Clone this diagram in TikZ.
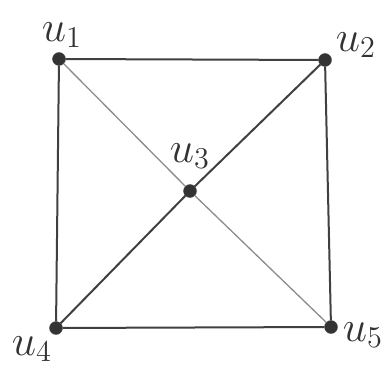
\documentclass[tikz,border=0pt]{standalone}
\usepackage{graphicx}
\newcommand{\biglbl}[1]{\scalebox{2.1}{\huge$#1$}}
\begin{document}
\begin{tikzpicture}[x=1pt,y=-1pt,
  vtx/.style={circle,fill=black!80,draw=black!70,inner sep=0pt,minimum size=13pt},
  lbl/.style={text=black!80,inner sep=0pt},
  edge/.style={draw=black!75,line width=2pt},
  lightedge/.style={draw=black!45,line width=1.3pt}]
\useasboundingbox[fill=white] (0,0) rectangle (387,374);
\node[vtx] (u1) at (59,59) {};
\node[vtx] (u2) at (325,60) {};
\node[vtx] (u3) at (190,191) {};
\node[vtx] (u4) at (56,328) {};
\node[vtx] (u5) at (331,327) {};
\draw[edge] (u1) -- (u2);
\draw[edge] (u2) -- (u5);
\draw[edge] (u5) -- (u4);
\draw[edge] (u4) -- (u1);
\draw[lightedge] (u1) -- (u3);
\draw[lightedge] (u3) -- (u5);
\draw[edge] (u4) -- (u3);
\draw[edge] (u3) -- (u2);
\node[lbl] (l1) at (62,35) {\biglbl{u_1}};
\node[lbl] (l2) at (356,45) {\biglbl{u_2}};
\node[lbl] (l3) at (190,156) {\biglbl{u_3}};
\node[lbl] (l4) at (32,349) {\biglbl{u_4}};
\node[lbl] (l5) at (363,335) {\biglbl{u_5}};
\end{tikzpicture}
\end{document}
